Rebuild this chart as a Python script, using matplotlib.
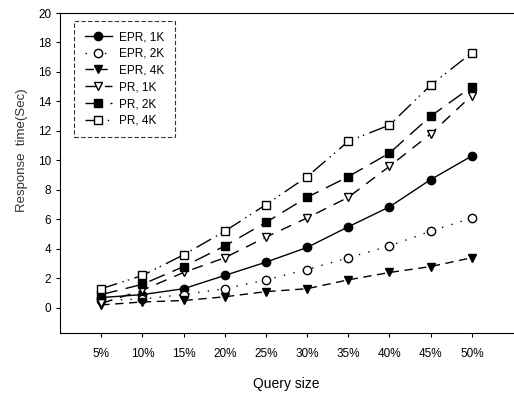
import numpy as np
import matplotlib.pyplot as plt

plt.rcParams['font.family'] = ['Liberation Sans', 'DejaVu Sans']

labels = ['5%', '10%', '15%', '20%', '25%', '30%', '35%', '40%', '45%', '50%']
epr_1k = [0.7, 0.9, 1.3, 2.2, 3.1, 4.1, 5.5, 6.85, 8.7, 10.3]
epr_2k = [0.5, 0.6, 0.9, 1.3, 1.9, 2.6, 3.4, 4.2, 5.2, 6.1]
epr_4k = [0.2, 0.4, 0.5, 0.75, 1.1, 1.3, 1.9, 2.4, 2.8, 3.4]
pr_1k = [0.3, 1.2, 2.4, 3.4, 4.8, 6.1, 7.5, 9.6, 11.8, 14.4]
pr_2k = [0.9, 1.6, 2.8, 4.2, 5.8, 7.5, 8.9, 10.5, 13.0, 15.0]
pr_4k = [1.3, 2.2, 3.6, 5.2, 7.0, 8.9, 11.3, 12.4, 15.1, 17.3]

x = np.arange(1, len(labels) + 1)

fig = plt.figure(figsize=(5.14, 3.94), dpi=100)
ax = fig.add_axes([0.117, 0.155, 0.881, 0.812])

ax.plot(x, epr_1k, color='black', lw=1, ls='-', marker='o', ms=6, label='EPR, 1K')
ax.plot(x, epr_2k, color='black', lw=1, ls=(0, (1, 6)), marker='o', ms=6,
        mfc='white', label='EPR, 2K')
ax.plot(x, epr_4k, color='black', lw=1, ls=(0, (6, 4)), marker='v', ms=6, label='EPR, 4K')
ax.plot(x, pr_1k, color='black', lw=1, ls=(0, (8, 6)), marker='v', ms=6,
        mfc='white', label='PR, 1K')
ax.plot(x, pr_2k, color='black', lw=1, ls=(0, (12, 6)), marker='s', ms=6, label='PR, 2K')
ax.plot(x, pr_4k, color='black', lw=1, ls=(0, (12, 4, 1, 3, 1, 4)), marker='s', ms=6,
        mfc='white', label='PR, 4K')

ax.set_xlim(0, 11)
ax.set_ylim(-1.7, 20)
ax.set_xticks(x)
ax.set_xticklabels(labels)
ax.set_yticks(np.arange(0, 21, 2))
ax.tick_params(direction='out', length=3, width=0.8, labelsize=8.5)
ax.tick_params(axis='x', pad=8)

for s in ax.spines.values():
    s.set_linestyle((0, (4, 1, 1, 1)))
    s.set_linewidth(0.8)
ax.spines['right'].set_visible(False)

ax.set_xlabel('Query size', fontsize=10, labelpad=12)
ax.set_ylabel('Response  time(Sec)', fontsize=9.5, color='#333333')
ax.yaxis.set_label_coords(-0.072, 0.57)

leg = ax.legend(loc='upper left', bbox_to_anchor=(0.018, 0.995), fontsize=8.5,
                frameon=True, fancybox=False, handlelength=2.3, labelspacing=0.4,
                borderpad=0.9, handletextpad=0.6)
leg.get_frame().set_edgecolor('black')
leg.get_frame().set_linewidth(0.8)
leg.get_frame().set_linestyle((0, (4, 2)))

fig.savefig('out.png', dpi=100)
